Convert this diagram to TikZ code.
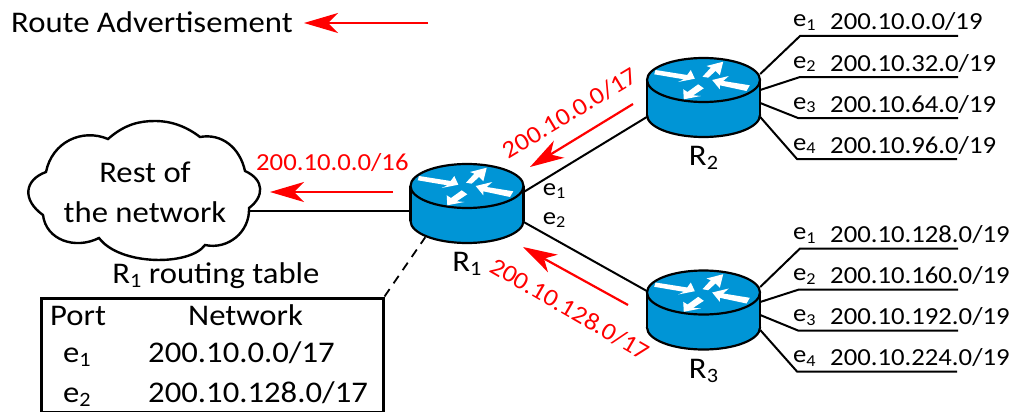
\documentclass[tikz,border=0pt]{standalone}
\usepackage{fontspec}
\setmainfont[FakeStretch=1.09]{Carlito}
\usetikzlibrary{arrows.meta, positioning}
\definecolor{routerblue}{HTML}{0095D6}
\newcommand{\idx}[1]{\raisebox{-0.3ex}{\scalebox{0.68}{#1}}}
\newcommand{\bigfont}{\fontsize{30}{40}\selectfont}
\newcommand{\smallfont}{\fontsize{24.5}{28}\selectfont}
\tikzstyle{arrow} = [red,line width=2.2pt,-{Stealth[length=34pt,width=20pt,inset=10pt]}]
\tikzstyle{wire} = [black,line width=2pt]
\tikzset{
  routerbox/.style={minimum width=113pt,minimum height=79pt,inner sep=0pt},
  bigtext/.style={font=\bigfont,inner sep=0pt},
  smalltext/.style={font=\smallfont,inner sep=0pt},
  redtext/.style={font=\smallfont,inner sep=0pt,text=red},
  routerbody/.pic={
    \draw[line width=2.2pt,fill=routerblue] (0,17.5) ellipse [x radius=56.5,y radius=22];
    \fill[routerblue] (-56.5,-17.5) rectangle (56.5,17.5);
    \draw[line width=2.2pt] (-56.5,-17.5) -- (-56.5,17.5) (56.5,-17.5) -- (56.5,17.5);
    \draw[line width=2.2pt,fill=routerblue] (0,-17.5) ellipse [x radius=56.5,y radius=22];
    \fill[white] (-48,-27.5) -- (-16.3,-22.5) -- (-12.7,-27.5) -- (-8.7,-18.8) -- (-25.3,-15.5) -- (-19.7,-18.2) -- (-49.3,-23.2) -- cycle;
    \fill[white] (-1,-20.8) -- (7.3,-29.8) -- (3,-31.5) -- (19.7,-35.8) -- (16.3,-22.2) -- (12,-26.5) -- (4.7,-19.8) -- cycle;
    \fill[white] (46.3,-12.2) -- (19.7,-16.5) -- (25.3,-21.5) -- (8.7,-17.5) -- (16.3,-8.2) -- (16.3,-12.2) -- (43,-6.5) -- cycle;
    \fill[white] (-5.3,-13.2) -- (0.3,-9.2) -- (-10.3,-2.2) -- (-2.7,-1.5) -- (-19.7,1.8) -- (-20.3,-8.2) -- (-16,-5.5) -- cycle;
  }
}

\begin{document}
\begin{tikzpicture}[x=1pt,y=-1pt]
\useasboundingbox (0,0) rectangle (1009,412);
% cloud outline
\draw[line width=2.4pt,fill=white] (108,139)
  .. controls (125,124) and (140,121) .. (155,121)
  .. controls (172,121) and (187,127) .. (200,137)
  .. controls (222,133) and (240,148) .. (245,171)
  .. controls (265,180) and (264,197) .. (249,208)
  .. controls (250,232) and (228,250) .. (205,245)
  .. controls (190,266) and (120,266) .. (99,238)
  .. controls (75,250) and (46,240) .. (43,215)
  .. controls (22,200) and (24,180) .. (46,172)
  .. controls (52,142) and (82,128) .. (108,139) -- cycle;
\node[bigtext,align=center,minimum width=208pt] (net) at (145,192) {Rest of\\the network};
% routers
\foreach \n/\x/\y in {R1/467/203.5, R2/703.5/97.5, R3/703.5/310}
  \node[routerbox] (\n) at (\x,\y) {};
% links
\draw[wire] ([yshift=-7pt]R1.west) -- ([yshift=-7pt]R1.west -| net.east);
\draw[wire] ([yshift=11.5pt]R1.east) -- ([yshift=-19.5pt]R2.west);
\draw[wire] ([yshift=-18.5pt]R1.east) -- ([yshift=19pt]R3.west);
% routing table
\node[draw,line width=3pt,minimum width=342pt,minimum height=114pt,inner sep=0pt] (table) at (212,355) {};
\draw[black,line width=1.8pt,dash pattern=on 9pt off 7pt] (table.north east) -- ([xshift=15pt,yshift=6pt]R1.south west);
\foreach \n in {R1,R2,R3}
  \pic at (\n) {routerbody};
\node[bigtext,above=8pt of table.north,xshift=4pt] (title) {R\idx{1} routing table};
\node[bigtext,anchor=base west] (port) at (50,325) {Port};
\node[bigtext,anchor=base west] (network) at (188,325) {Network};
\node[bigtext,anchor=base west] (p1) at (63,362) {e\idx{1}};
\node[bigtext,anchor=base west] (n1) at (148,362) {200.10.0.0/17};
\node[bigtext,anchor=base west] (p2) at (63,402) {e\idx{2}};
\node[bigtext,anchor=base west] (n2) at (148,402) {200.10.128.0/17};
% router names
\node[bigtext,below=9pt of R1] (name1) {R\idx{1}};
\node[bigtext,below=9pt of R2] (name2) {R\idx{2}};
\node[bigtext,below=9pt of R3] (name3) {R\idx{3}};
\node[smalltext] (e1) at (554,191) {e\idx{1}};
\node[smalltext] (e2) at (554,220) {e\idx{2}};
% subnets on R2
\foreach \i/\s/\bx/\by/\ex/\nets in {1/23.5/800/36/958/{200.10.0.0/19},
    2/7.5/800/77/958/{200.10.32.0/19},
    3/-5.5/798/118/958/{200.10.64.0/19},
    4/-19.5/797/159/957/{200.10.96.0/19}}{
  \coordinate (R2b\i) at (\bx,\by);
  \coordinate (R2t\i) at (\ex,\by);
  \draw[wire] ([yshift=\s pt]R2.east) -- (R2b\i) -- (R2t\i);
  \node[smalltext,anchor=base west] (R2p\i) at (793,\by-9) {e\idx{\i}};
  \node[smalltext,anchor=base west] (R2n\i) at (830,\by-6) {\nets};
}
% subnets on R3
\foreach \i/\s/\bx/\by/\ex/\nets in {1/23/800/248.5/958/{200.10.128.0/19},
    2/8/799/289.5/958/{200.10.160.0/19},
    3/-5/798/330.5/958/{200.10.192.0/19},
    4/-20/797/371.5/957/{200.10.224.0/19}}{
  \coordinate (R3b\i) at (\bx,\by);
  \coordinate (R3t\i) at (\ex,\by);
  \draw[wire] ([yshift=\s pt]R3.east) -- (R3b\i) -- (R3t\i);
  \node[smalltext,anchor=base west] (R3p\i) at (793,\by-9) {e\idx{\i}};
  \node[smalltext,anchor=base west] (R3n\i) at (830,\by-6) {\nets};
}
% advertisements
\node[bigtext,anchor=base west] (legend) at (11,33) {Route Advertisement};
\coordinate (legtail) at (428,23);
\coordinate (legtip) at (304,23);
\draw[arrow] (legtail) -- (legtip);
\coordinate (a1tail) at (393,192);
\coordinate (a1tip) at (270,192);
\draw[arrow] (a1tail) -- (a1tip);
\coordinate (a2tail) at (633,104);
\coordinate (a2tip) at (530,167);
\draw[arrow] (a2tail) -- (a2tip);
\coordinate (a3tail) at (628,305);
\coordinate (a3tip) at (523,247);
\draw[arrow] (a3tail) -- (a3tip);
\node[redtext,anchor=base west] (adv1) at (256,170) {200.10.0.0/16};
\node[redtext,rotate=31] (adv2) at (570,113) {200.10.0.0/17};
\node[redtext,rotate=-30] (adv3) at (570,309) {200.10.128.0/17};
\end{tikzpicture}
\end{document}
